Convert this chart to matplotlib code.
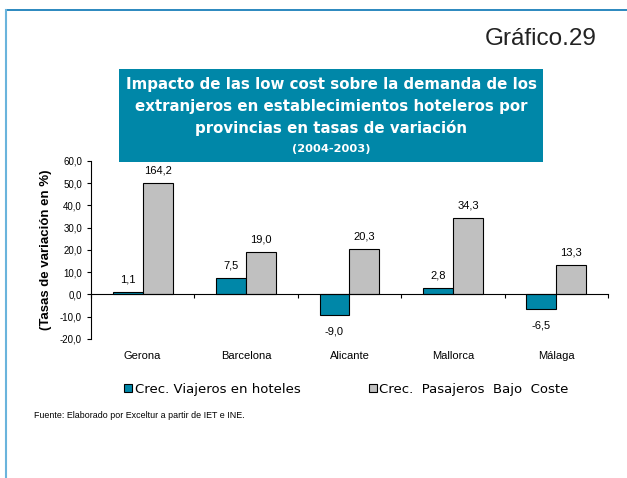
import matplotlib.pyplot as plt
from matplotlib.patches import Rectangle
from matplotlib.lines import Line2D
import numpy as np

plt.rcParams['font.family'] = ['Liberation Sans', 'DejaVu Sans']

# data
provincias = ['Gerona', 'Barcelona', 'Alicante', 'Mallorca', 'Málaga']
viajeros = [1.1, 7.5, -9.0, 2.8, -6.5]
pasajeros = [164.2, 19.0, 20.3, 34.3, 13.3]
y_ticks = [-20, -10, 0, 10, 20, 30, 40, 50, 60]
titulo = ['Impacto de las low cost sobre la demanda de los',
          'extranjeros en establecimientos hoteleros por',
          'provincias en tasas de variación']

azul = '#0087A8'
gris = '#C0C0C0'
tope = 50  # bars above this value are cut off in the chart

fig = plt.figure(figsize=(6.27, 4.78), dpi=100)
ax = fig.add_axes([0.1451, 0.2908, 0.8246, 0.3724])

x = np.arange(len(provincias))
w = 0.29
b1 = ax.bar(x - w / 2, viajeros, w, color=azul, edgecolor='black', linewidth=0.8,
            label='Crec. Viajeros en hoteles')
b2 = ax.bar(x + w / 2, [min(v, tope) for v in pasajeros], w, color=gris,
            edgecolor='black', linewidth=0.8, label='Crec.  Pasajeros  Bajo  Coste')

# value labels
for bars, vals in [(b1, viajeros), (b2, pasajeros)]:
    for r, v in zip(bars, vals):
        h = r.get_height()
        off = 9 if v >= 0 else -12
        ax.annotate(f'{v:.1f}'.replace('.', ','), (r.get_x() + r.get_width() / 2, h),
                    xytext=(0, off), textcoords='offset points', ha='center',
                    va='center', fontsize=8)

ax.set_xlim(-0.5, len(provincias) - 0.5)
ax.set_ylim(-20, 60)
ax.set_yticks(y_ticks)
ax.set_yticklabels([f'{t:.1f}'.replace('.', ',') for t in y_ticks], fontsize=7)
ax.spines['top'].set_visible(False)
ax.spines['right'].set_visible(False)
ax.spines['bottom'].set_position(('data', 0))
ax.set_xticks(np.arange(len(provincias) + 1) - 0.5)
ax.set_xticklabels([])
ax.tick_params(axis='x', direction='out', length=3)
ax.tick_params(axis='y', length=3)

for i, p in enumerate(provincias):
    ax.text(i, -0.095, p, transform=ax.get_xaxis_transform(), ha='center',
            va='center', fontsize=8)

ax.set_ylabel('(Tasas de variación en %)', fontsize=9.5, fontweight='bold', labelpad=6)

# title box
fig.patches.append(Rectangle((0.1898, 0.6611), 0.6762, 0.1946, transform=fig.transFigure,
                             facecolor=azul, edgecolor='none', zorder=0))
for linea, ypix in zip(titulo, [85, 106.7, 128.3]):
    fig.text(0.528, 1 - ypix / 478, linea, ha='center', va='center', color='white',
             fontsize=10.8, fontweight='bold', family='DejaVu Sans')
fig.text(0.528, 1 - 149.3 / 478, '(2004-2003)', ha='center', va='center', color='white',
         fontsize=8.2, fontweight='bold', family='DejaVu Sans')

fig.text(0.951, 1 - 39 / 478, 'Gráfico.29', ha='right', va='center', fontsize=17.5,
         color='#222222')

# frame lines
fig.add_artist(Line2D([0.009, 1.0], [0.979, 0.979], transform=fig.transFigure,
                      color='#1A7FBA', linewidth=1.3))
fig.add_artist(Line2D([0.009, 0.009], [0.0, 0.979], transform=fig.transFigure,
                      color='#6AB4DC', linewidth=1.5))

# legend
fig.legend(handles=[b1, b2], loc='center left', bbox_to_anchor=(0.1978, 1 - 389 / 478),
           ncol=2, frameon=False, prop={'family': 'DejaVu Sans', 'size': 9.5},
           handlelength=0.6, handleheight=0.6, handletextpad=0.2, columnspacing=5.2,
           borderpad=0, borderaxespad=0)

fig.text(0.054, 1 - 415 / 478, 'Fuente: Elaborado por Exceltur a partir de IET e INE.',
         ha='left', va='center', fontsize=6.4)

fig.savefig('out.png', dpi=100)
